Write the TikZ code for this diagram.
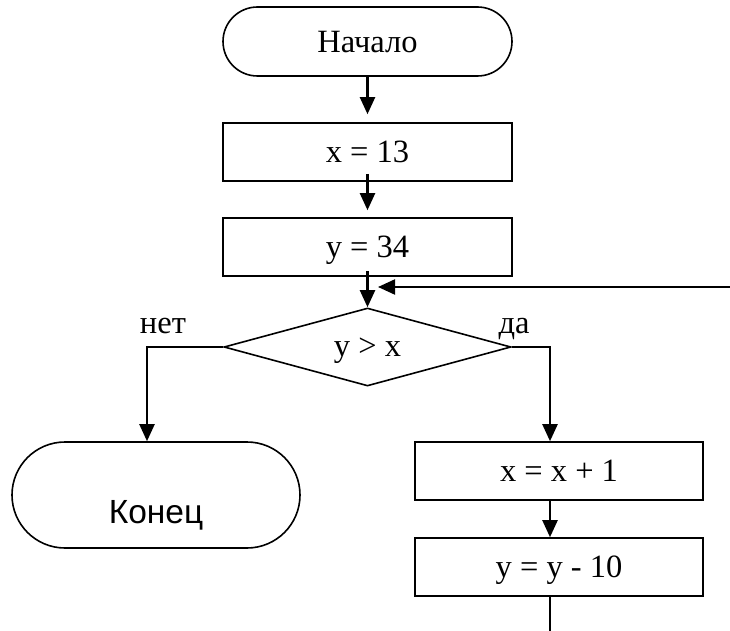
\documentclass[tikz,border=0pt]{standalone}
\usepackage{fontspec}
\setmainfont{Liberation Serif}
\newfontfamily\arialfont{Liberation Sans}
\usetikzlibrary{shapes.geometric,arrows.meta}
\begin{document}
\begin{tikzpicture}[x=1pt,y=-1pt,
  every node/.style={font=\fontsize{32.5}{38}\selectfont, inner sep=0pt},
  term/.style={draw, rectangle, line width=1.6pt, text depth=0pt},
  proc/.style={draw, rectangle, line width=1.6pt, minimum width=289pt, minimum height=58pt, text depth=0pt},
  dec/.style={draw, diamond, aspect=3.68, line width=1.6pt, minimum width=287pt, minimum height=78pt, text depth=0pt},
  flow/.style={line width=2.2pt},
  arr/.style={flow, -{Triangle[length=17pt,width=15pt]}}]
\useasboundingbox (0,0) rectangle (730,631);
\node[term, minimum width=289pt, minimum height=69pt, rounded corners=34.5pt] (start) at (367.5,41.5) {Начало};
\node[proc] (a) at (367.5,152) {x = 13};
\node[proc] (b) at (367.5,247) {y = 34};
\node[dec] (cond) at (367.5,347) {y > x};
\node[term, minimum width=288pt, minimum height=106pt, rounded corners=53pt, font=\arialfont\fontsize{33.5}{38}\selectfont] (end) at (156,495) {\raisebox{-28pt}[0pt][0pt]{Конец}};
\node[proc, minimum width=288pt] (c) at (559,471) {x = x + 1};
\node[proc, minimum width=288pt] (d) at (559,567) {y = y - 10};
\node[anchor=base] (no) at (163,333) {нет};
\node[anchor=base] (yes) at (514,333) {да};
\coordinate (loopin) at (730,287);
\coordinate (merge) at (378,287);
\coordinate (loopout) at (550,631);
\draw[arr] (start.south) -- ([yshift=8pt]a.north);
\draw[arr] ([yshift=8pt]a.south) -- ([yshift=7pt]b.north);
\draw[arr] ([yshift=6pt]b.south) -- (cond.north);
\draw[arr] (loopin) -- (merge);
\draw[arr] (cond.west) -| ([xshift=-9pt]end.north);
\draw[arr] (cond.east) -| ([xshift=-9pt]c.north);
\draw[arr] ([xshift=-9pt]c.south) -- ([xshift=-9pt]d.north);
\draw[flow] ([xshift=-9pt]d.south) -- (loopout);
\end{tikzpicture}
\end{document}
